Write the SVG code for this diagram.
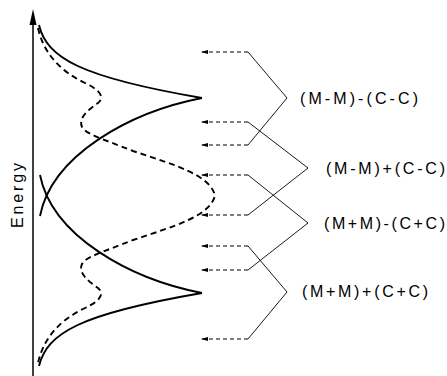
<svg xmlns="http://www.w3.org/2000/svg" width="447" height="376" viewBox="0 0 447 376">
<style>
.curve{fill:none;stroke:#000;stroke-width:1.9}
.dash{fill:none;stroke:#000;stroke-width:1.9;stroke-dasharray:6 4}
.arr{fill:none;stroke:#000;stroke-width:1;stroke-dasharray:4 3;marker-end:url(#ah)}
.br{fill:none;stroke:#000;stroke-width:0.9}
.lbl{font-family:"Liberation Sans",Arial,sans-serif;font-size:16px;fill:#000}
</style>
<defs>
<marker id="ah" markerWidth="8" markerHeight="6" refX="7" refY="3" orient="auto" markerUnits="userSpaceOnUse">
<path d="M0,1 L7,3 L0,5 Z" fill="#000"/>
</marker>
</defs>
<rect width="447" height="376" fill="#fff"/>
<g id="axis">
<line x1="33" y1="376" x2="33" y2="20" stroke="#000" stroke-width="1.5"/>
<path d="M33,9 L36.5,25 L29.5,25 Z" fill="#000"/>
<text class="lbl" transform="translate(23,228) rotate(-90)" font-size="14" textLength="65" lengthAdjust="spacing">Energy</text>
</g>
<g id="curves">
<path class="curve" d="M39,25 C47,58 80,77 202,98"/>
<path class="curve" d="M202,98 C130,112 52,155 40,216"/>
<path class="curve" d="M40,175 C52,236 130,279 202,293"/>
<path class="curve" d="M39,366 C47,333 80,314 202,293"/>
<path class="dash" d="M38,28 C44,55 62,72 85,83 C100,90 105,97 98,103 C88,110 78,118 82,127 C86,134 100,138 133,151 C175,165 210,175 215,195.5 C210,216 175,226 133,240 C100,253 86,257 82,264 C78,273 88,281 98,288 C105,294 100,301 85,308 C62,319 44,336 38,363"/>
</g>
<g id="connectors">
<line class="arr" x1="248" y1="52" x2="201" y2="52"/>
<line class="arr" x1="248" y1="122" x2="201" y2="122"/>
<line class="arr" x1="248" y1="145" x2="201" y2="145"/>
<line class="arr" x1="248" y1="175" x2="201" y2="175"/>
<line class="arr" x1="248" y1="215" x2="201" y2="215"/>
<line class="arr" x1="248" y1="246" x2="201" y2="246"/>
<line class="arr" x1="248" y1="270" x2="201" y2="270"/>
<line class="arr" x1="248" y1="339" x2="201" y2="339"/>
<polyline class="br" points="248,52 287,98 248,145"/>
<polyline class="br" points="248,122 308,168 248,215"/>
<polyline class="br" points="248,175 308,223 248,270"/>
<polyline class="br" points="248,246 287,292 248,339"/>
</g>
<g id="label1"><text class="lbl" x="300" y="104" textLength="118" lengthAdjust="spacing">(M-M)-(C-C)</text></g>
<g id="label2"><text class="lbl" x="326" y="174" textLength="119" lengthAdjust="spacing">(M-M)+(C-C)</text></g>
<g id="label3"><text class="lbl" x="324" y="229" textLength="121" lengthAdjust="spacing">(M+M)-(C+C)</text></g>
<g id="label4"><text class="lbl" x="302" y="297" textLength="126" lengthAdjust="spacing">(M+M)+(C+C)</text></g>
</svg>
